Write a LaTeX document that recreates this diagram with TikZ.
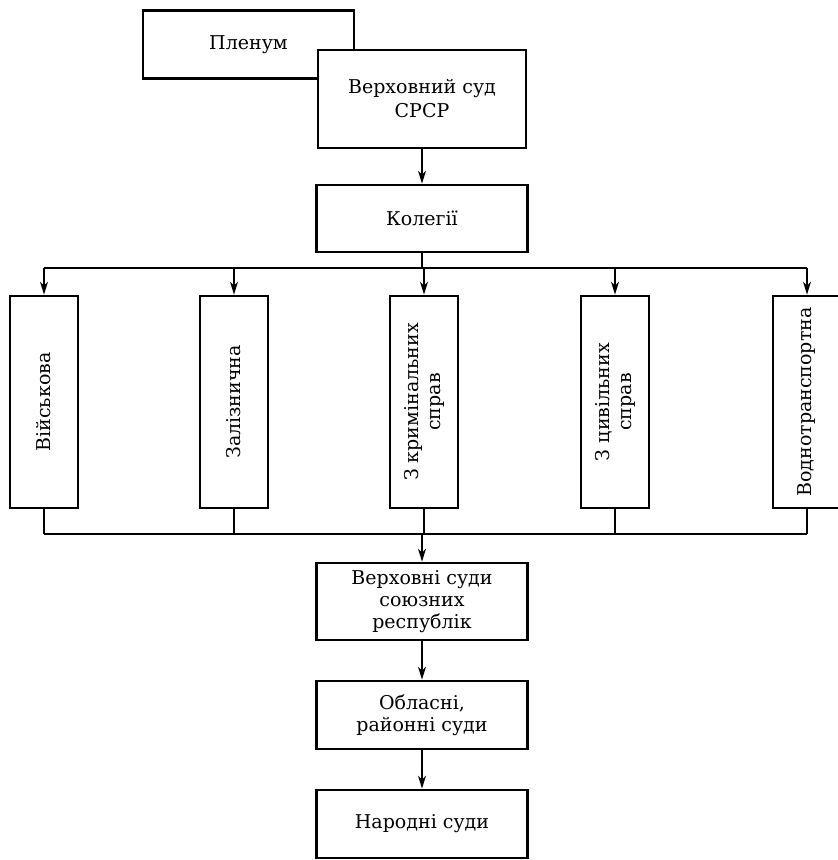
\documentclass[tikz,border=0pt]{standalone}
\usepackage{fontspec}
\setmainfont{DejaVu Serif}
\usetikzlibrary{positioning, arrows.meta}

\begin{document}
\begin{tikzpicture}[
    x=1pt, y=-1pt,
    court/.style={rectangle, draw, line width=2.8pt, minimum width=211pt, minimum height=68pt, align=center, font=\fontsize{19}{22}\selectfont, inner sep=2pt},
    branch/.style={rectangle, draw, line width=2.8pt, minimum width=212pt, minimum height=68pt, rotate=90, align=center, font=\fontsize{19}{22}\selectfont, inner sep=2pt},
    link/.style={line width=1.3pt},
    arrow/.style={-{Stealth[length=13pt, width=8pt]}, line width=1.3pt}
]
\useasboundingbox (0,0) rectangle (838,860);

% upper level
\node[court] (plenum) at (248.5, 44.5) {Пленум};
\node[court, fill=white, minimum width=208pt, minimum height=98pt, font=\fontsize{19}{24}\selectfont] (supreme) at (422, 99) {Верховний суд\\СРСР};
\node[court, minimum height=67pt] (koleg) at (422, 218.5) {Колегії};

% collegia
\node[branch] (mil) at (44, 402) {Військова};
\node[branch] (rail) at (234, 402) {Залізнична};
\node[branch] (crim) at (424, 402) {З кримінальних\\справ};
\node[branch] (civ) at (615, 402) {З цивільних\\справ};
\node[branch] (water) at (807, 402) {Воднотранспортна};

\coordinate (bustop) at (0, 268);
\coordinate (busbot) at (0, 534);

% lower level
\node[court, minimum height=77pt] (repub) at (422, 601.5) {Верховні суди\\союзних\\республік};
\node[court] (oblast) at (422, 715) {Обласні,\\районні суди};
\node[court] (narod) at (422, 824) {Народні суди};

\draw[arrow] (supreme) -- (koleg);
\draw[link] (koleg) -- (koleg |- bustop);
\draw[link] (mil.east |- bustop) -- (water.east |- bustop);
\foreach \b in {mil, rail, crim, civ, water}
    \draw[arrow] (\b.east |- bustop) -- (\b.east);
\foreach \b in {mil, rail, crim, civ, water}
    \draw[link] (\b.west) -- (\b.west |- busbot);
\draw[link] (mil.west |- busbot) -- (water.west |- busbot);
\draw[arrow] (koleg |- busbot) -- (repub);
\draw[arrow] (repub) -- (oblast);
\draw[arrow] (oblast) -- (narod);

\end{tikzpicture}
\end{document}
